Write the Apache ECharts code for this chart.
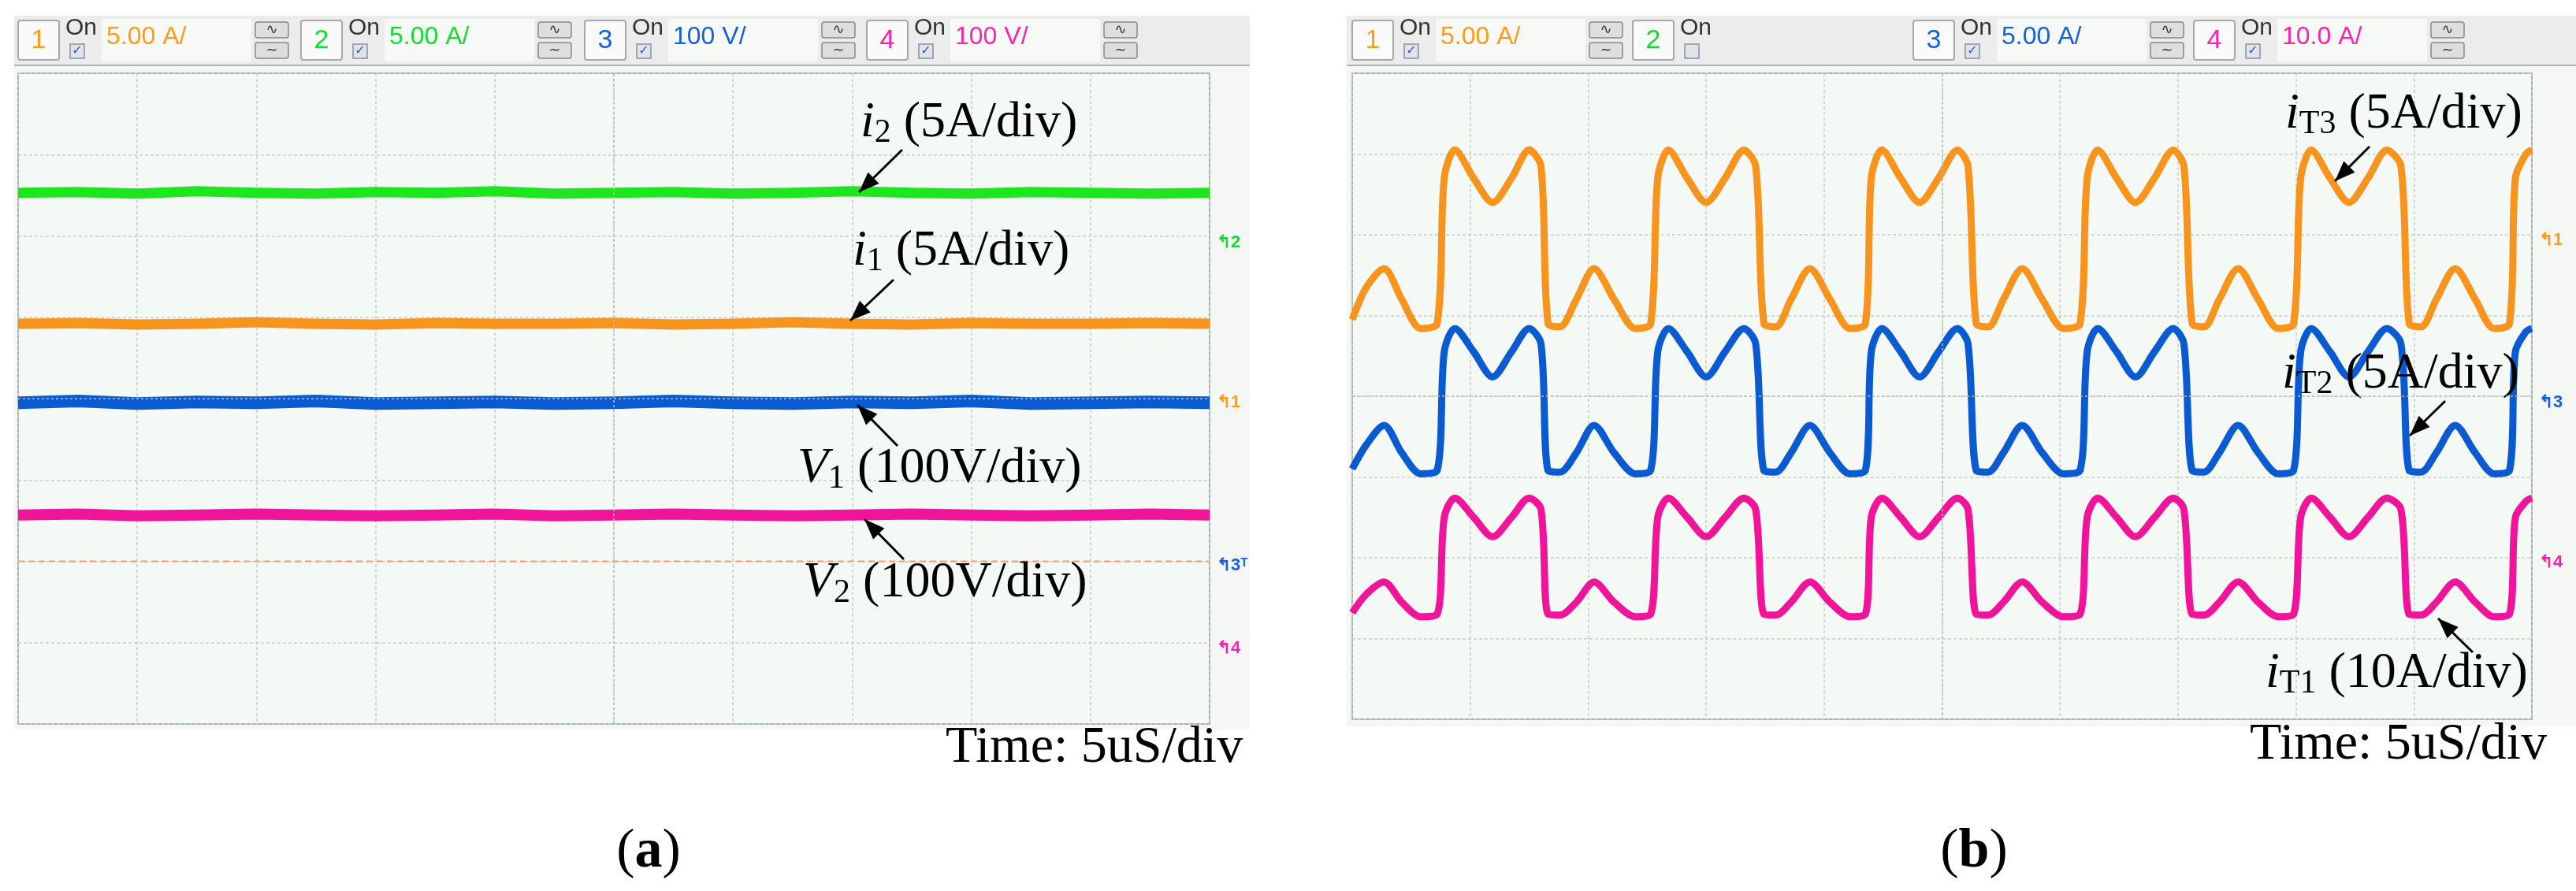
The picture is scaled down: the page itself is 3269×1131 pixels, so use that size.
<!DOCTYPE html>
<html><head><meta charset="utf-8">
<script src="https://cdn.jsdelivr.net/npm/echarts@6/dist/echarts.min.js"></script>
<style>html,body{margin:0;padding:0;background:#fff}#c{width:3269px;height:1131px}</style>
</head><body><div id="c"></div>
<script>
// ---------- data (x in time divisions 0..10, y in vertical divisions 0..8) ----------
const timeA = [0,0.5,1,1.5,2,2.5,3,3.5,4,4.5,5,5.5,6,6.5,7,7.5,8,8.5,9,9.5,10];
const i2A = [6.53,6.54,6.52,6.55,6.53,6.52,6.54,6.53,6.55,6.52,6.53,6.54,6.52,6.53,6.55,6.53,6.52,6.54,6.53,6.52,6.53];
const i1A = [4.92,4.93,4.91,4.92,4.94,4.92,4.91,4.93,4.92,4.92,4.93,4.91,4.92,4.94,4.92,4.91,4.93,4.92,4.92,4.93,4.92];
const v1A = [3.95,3.97,3.94,3.96,3.95,3.97,3.94,3.95,3.96,3.94,3.95,3.97,3.95,3.94,3.96,3.95,3.97,3.94,3.95,3.96,3.95];
const v2A = [2.57,2.58,2.56,2.57,2.58,2.57,2.56,2.57,2.58,2.56,2.57,2.58,2.57,2.56,2.57,2.58,2.57,2.56,2.57,2.58,2.57];
const trigLevelA = 2.0;

const timeB = [0,0.12,0.27,0.42,0.58,0.72,
 0.78,0.87,1.03,1.19,1.35,1.5,1.6,
 1.66,1.76,1.9,2.05,2.22,2.40,2.53,
 2.59,2.68,2.84,3.0,3.16,3.32,3.42,
 3.49,3.59,3.72,3.88,4.05,4.22,4.35,
 4.40,4.49,4.65,4.81,4.97,5.13,5.22,
 5.29,5.39,5.52,5.68,5.85,6.03,6.17,
 6.23,6.32,6.48,6.64,6.8,6.96,7.05,
 7.12,7.22,7.35,7.51,7.68,7.85,7.98,
 8.04,8.13,8.29,8.45,8.61,8.77,8.89,
 8.96,9.06,9.19,9.35,9.52,9.68,9.81,
 9.86,9.95,10];
const iT3 = [4.95,5.35,5.58,5.2,4.84,4.9,
 6.7,7.05,6.7,6.4,6.7,7.05,6.85,
 4.9,4.86,5.2,5.58,5.2,4.84,4.9,
 6.7,7.05,6.7,6.4,6.7,7.05,6.85,
 4.9,4.86,5.2,5.58,5.2,4.84,4.9,
 6.7,7.05,6.7,6.4,6.7,7.05,6.85,
 4.9,4.86,5.2,5.58,5.2,4.84,4.9,
 6.7,7.05,6.7,6.4,6.7,7.05,6.85,
 4.9,4.86,5.2,5.58,5.2,4.84,4.9,
 6.7,7.05,6.7,6.4,6.7,7.05,6.85,
 4.9,4.86,5.2,5.58,5.2,4.84,4.9,
 6.7,7.0,7.05];
const iT2 = [3.1,3.4,3.64,3.3,3.04,3.08,
 4.55,4.84,4.55,4.24,4.55,4.84,4.65,
 3.08,3.06,3.3,3.64,3.3,3.04,3.08,
 4.55,4.84,4.55,4.24,4.55,4.84,4.65,
 3.08,3.06,3.3,3.64,3.3,3.04,3.08,
 4.55,4.84,4.55,4.24,4.55,4.84,4.65,
 3.08,3.06,3.3,3.64,3.3,3.04,3.08,
 4.55,4.84,4.55,4.24,4.55,4.84,4.65,
 3.08,3.06,3.3,3.64,3.3,3.04,3.08,
 4.55,4.84,4.55,4.24,4.55,4.84,4.65,
 3.08,3.06,3.3,3.64,3.3,3.04,3.08,
 4.55,4.8,4.84];
const iT1 = [1.32,1.55,1.70,1.45,1.27,1.3,
 2.5,2.74,2.5,2.26,2.5,2.74,2.6,
 1.3,1.29,1.45,1.70,1.45,1.27,1.3,
 2.5,2.74,2.5,2.26,2.5,2.74,2.6,
 1.3,1.29,1.45,1.70,1.45,1.27,1.3,
 2.5,2.74,2.5,2.26,2.5,2.74,2.6,
 1.3,1.29,1.45,1.70,1.45,1.27,1.3,
 2.5,2.74,2.5,2.26,2.5,2.74,2.6,
 1.3,1.29,1.45,1.70,1.45,1.27,1.3,
 2.5,2.74,2.5,2.26,2.5,2.74,2.6,
 1.3,1.29,1.45,1.70,1.45,1.27,1.3,
 2.5,2.7,2.74];

const headerA = [{n:'1',v:'5.00 A/',on:true},{n:'2',v:'5.00 A/',on:true},{n:'3',v:'100 V/',on:true},{n:'4',v:'100 V/',on:true}];
const headerB = [{n:'1',v:'5.00 A/',on:true},{n:'2',v:'',on:false},{n:'3',v:'5.00 A/',on:true},{n:'4',v:'10.0 A/',on:true}];

// ---------- styles ----------
const C = {'1':'#f7941d','2':'#1ee61e','3':'#0a5ad2','4':'#f0149b'};
const CT = {'1':'#ff9a1a','2':'#10dd30','3':'#1560e0','4':'#ff20b0'};
const zip = (t,y)=>t.map((x,i)=>[x,y[i]]);

const chart = echarts.init(document.getElementById('c'));
const gridA = {left:23, top:93, width:1512, height:826};
const gridB = {left:1716, top:93, width:1497, height:820};

function axisX(gi){return {type:'value',gridIndex:gi,min:0,max:10,interval:1,axisLabel:{show:false},axisTick:{show:false},axisLine:{show:false},
  splitLine:{show:true,lineStyle:{color:'#c8cccc',type:[4,3],width:1.5}}};}
function axisY(gi){return {type:'value',gridIndex:gi,min:0,max:8,interval:1,axisLabel:{show:false},axisTick:{show:false},axisLine:{show:false},
  splitLine:{show:true,lineStyle:{color:'#c8cccc',type:[4,3],width:1.5}}};}

function line(gi,data,color,w,sm){return {type:'line',xAxisIndex:gi,yAxisIndex:gi,data:data,symbol:'none',silent:true,
  smooth:sm||false,lineStyle:{color:color,width:w,join:'round'},animation:false};}

const series = [
  line(0,zip(timeA,i2A),C['2'],13),
  line(0,zip(timeA,i1A),C['1'],13),
  line(0,zip(timeA,v1A),C['3'],16),
  line(0,zip(timeA,v2A),C['4'],14),
  {type:'line',xAxisIndex:0,yAxisIndex:0,data:[[0,trigLevelA],[10,trigLevelA]],symbol:'none',silent:true,animation:false,
   lineStyle:{color:'#ff9966',width:2,type:[8,5]}},
  line(1,zip(timeB,iT3),C['1'],9,0.3),
  line(1,zip(timeB,iT2),C['3'],9,0.3),
  line(1,zip(timeB,iT1),C['4'],9,0.3),
  {type:'line',xAxisIndex:0,yAxisIndex:0,data:[],markLine:{silent:true,symbol:'none',label:{show:false},
    lineStyle:{color:'#b8bcbc',type:[3,3],width:1.5},data:[{xAxis:5},{yAxis:4}]}},
  {type:'line',xAxisIndex:1,yAxisIndex:1,data:[],markLine:{silent:true,symbol:'none',label:{show:false},
    lineStyle:{color:'#b8bcbc',type:[3,3],width:1.5},data:[{xAxis:5},{yAxis:4}]}},
];

// ---------- graphics ----------
const G = [];
const sans = "'Liberation Sans Narrow','Liberation Sans',sans-serif";
const serif = "'Liberation Serif','DejaVu Serif',serif";
function header(x0,x1,starts,items){
  G.push({type:'rect',shape:{x:x0,y:20,width:x1-x0,height:64},style:{fill:'#ececec'},z:1});
  G.push({type:'line',shape:{x1:x0,y1:83,x2:x1,y2:83},style:{stroke:'#b0b0b0',lineWidth:2},z:2});
  items.forEach((it,k)=>{
    const gx = starts[k];
    G.push({type:'rect',shape:{x:gx,y:26,width:52,height:50,r:3},style:{fill:'#fafafa',stroke:'#a8a8a8',lineWidth:2},z:2});
    G.push({type:'text',x:gx+26,y:52,style:{text:it.n,fill:CT[it.n],font:'34px '+sans,align:'center',verticalAlign:'middle'},z:3});
    G.push({type:'text',x:gx+60,y:36,style:{text:'On',fill:'#333',font:'30px '+sans,verticalAlign:'middle'},z:3});
    G.push({type:'rect',shape:{x:gx+66,y:56,width:18,height:18},style:{fill:'#dfe3ea',stroke:'#8a8fa0',lineWidth:1.5},z:2});
    if(it.on) G.push({type:'text',x:gx+75,y:65,style:{text:'✓',fill:'#3355aa',font:'16px DejaVu Sans',align:'center',verticalAlign:'middle'},z:3});
    if(it.v){
      G.push({type:'rect',shape:{x:gx+106,y:24,width:190,height:54},style:{fill:'#f7f9f7'},z:2});
      G.push({type:'text',x:gx+112,y:47,style:{text:it.v,fill:CT[it.n],font:'32px '+sans,verticalAlign:'middle'},z:3});
      [28,54].forEach((yy,j)=>{
        G.push({type:'rect',shape:{x:gx+301,y:yy,width:42,height:20,r:3},style:{fill:'#dedede',stroke:'#888',lineWidth:1.5},z:2});
        G.push({type:'text',x:gx+322,y:yy+10,style:{text:j?'∼':'∿',fill:'#333',font:'18px DejaVu Sans',align:'center',verticalAlign:'middle'},z:3});
      });
    }
  });
}
header(18,1586,[23,382,742,1100],headerA);
header(1709,3269,[1716,2072,2428,2784],headerB);

function marker(x,y,n,extra){
  G.push({type:'text',x:x,y:y,style:{text:'↰'+n+(extra||''),fill:CT[n],font:'bold 22px '+sans,verticalAlign:'middle'},z:3});
}
marker(1544,308,'2'); marker(1544,511,'1'); marker(1544,718,'3','ᵀ'); marker(1544,823,'4');
marker(3222,305,'1'); marker(3222,511,'3'); marker(3222,714,'4');

function label(x,y,main,sub,rest){
  G.push({type:'text',x:x,y:y,z:5,style:{
    text:'{m|'+main+'}{s|'+sub+'}{r|'+rest+'}',verticalAlign:'middle',
    rich:{m:{font:'italic 64px '+serif,fill:'#000'},s:{font:'42px '+serif,fill:'#000',padding:[26,0,0,0]},r:{font:'64px '+serif,fill:'#000'}}}});
}
label(1092,156,'i','2',' (5A/div)'); label(1082,319,'i','1',' (5A/div)');
label(1012,595,'V','1',' (100V/div)'); label(1019,740,'V','2',' (100V/div)');
label(2900,145,'i','T3',' (5A/div)'); label(2896,475,'i','T2',' (5A/div)'); label(2875,855,'i','T1',' (10A/div)');

function arrow(x1,y1,x2,y2){
  G.push({type:'line',shape:{x1:x1,y1:y1,x2:x2,y2:y2},style:{stroke:'#000',lineWidth:3},z:5});
  const a=Math.atan2(y2-y1,x2-x1), L=26, W=10;
  const bx=x2-L*Math.cos(a), by=y2-L*Math.sin(a);
  G.push({type:'polygon',shape:{points:[[x2,y2],[bx+W*Math.sin(a),by-W*Math.cos(a)],[bx-W*Math.sin(a),by+W*Math.cos(a)]]},style:{fill:'#000'},z:5});
}
arrow(1145,190,1090,244); arrow(1134,355,1079,407); arrow(1139,566,1088,514); arrow(1147,710,1097,659);
arrow(3007,186,2963,230); arrow(3103,509,3058,553); arrow(3138,828,3094,785);

G.push({type:'text',x:1200,y:950,z:5,style:{text:'Time: 5uS/div',font:'66px '+serif,fill:'#000',verticalAlign:'middle'}});
G.push({type:'text',x:2855,y:946,z:5,style:{text:'Time: 5uS/div',font:'66px '+serif,fill:'#000',verticalAlign:'middle'}});
G.push({type:'text',x:823,y:1082,z:5,style:{text:'({b|a})',font:'70px '+serif,fill:'#000',align:'center',verticalAlign:'middle',rich:{b:{font:'bold 70px '+serif,fill:'#000'}}}});
G.push({type:'text',x:2505,y:1082,z:5,style:{text:'({b|b})',font:'70px '+serif,fill:'#000',align:'center',verticalAlign:'middle',rich:{b:{font:'bold 70px '+serif,fill:'#000'}}}});
G.push({type:'rect',shape:{x:18,y:84,width:1568,height:842},style:{fill:'#f4f7f4'},z:-10});
G.push({type:'rect',shape:{x:1709,y:84,width:1560,height:838},style:{fill:'#f4f7f4'},z:-10});

chart.setOption({
  animation:false,
  backgroundColor:'#ffffff',
  grid:[Object.assign({show:true,backgroundColor:'#f5f9f6',borderColor:'#a9adad',borderWidth:2},gridA),
        Object.assign({show:true,backgroundColor:'#f5f9f6',borderColor:'#a9adad',borderWidth:2},gridB)],
  xAxis:[axisX(0),axisX(1)],
  yAxis:[axisY(0),axisY(1)],
  series:series,
  graphic:G
});
</script></body></html>
